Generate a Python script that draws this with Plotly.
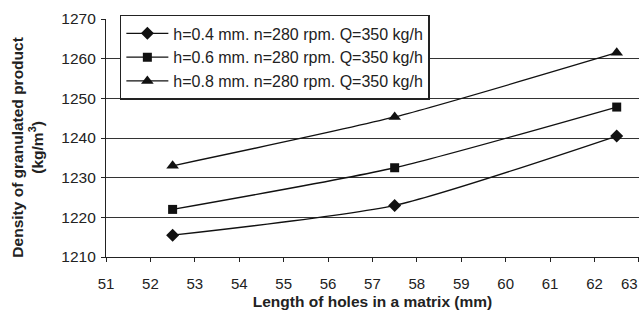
import plotly.graph_objects as go

x_len = [52.5, 57.5, 62.5]
dens_h04 = [1215.5, 1223.0, 1240.5]
dens_h06 = [1222.0, 1232.5, 1247.8]
dens_h08 = [1233.0, 1245.3, 1261.5]
names = ["h=0.4 mm. n=280 rpm. Q=350 kg/h",
         "h=0.6 mm. n=280 rpm. Q=350 kg/h",
         "h=0.8 mm. n=280 rpm. Q=350 kg/h"]
symbols = ["diamond", "square", "triangle-up"]
sizes = [10, 9, 11]
x_ticks = list(range(51, 64))
x_ticktext = [str(v) for v in x_ticks[:-1]] + [""]
last_x_label = str(x_ticks[-1])
y_ticks = list(range(1210, 1271, 10))

FONT = "Liberation Sans, Arial, sans-serif"
fig = go.Figure()
for i, (ys, nm) in enumerate(zip([dens_h04, dens_h06, dens_h08], names)):
    fig.add_trace(go.Scatter(
        x=x_len, y=ys, name=nm, mode="lines+markers",
        line=dict(color="#111111", width=1.3, shape="spline", smoothing=0.6),
        marker=dict(symbol=symbols[i], size=sizes[i], color="#111111"),
        legendgroup=f"g{i}",
    ))

fig.update_layout(
    width=644, height=316,
    margin=dict(l=106, r=5, t=19, b=59, autoexpand=False),
    paper_bgcolor="white", plot_bgcolor="white",
    font=dict(family=FONT, size=15, color="#222222"),
    showlegend=True,
    legend=dict(x=0.026, y=1.017, xanchor="left", yanchor="top",
                bgcolor="white", bordercolor="#222222", borderwidth=1.5,
                font=dict(size=16, family=FONT, color="#222222"),
                tracegroupgap=0, itemwidth=42),
    xaxis=dict(range=[51, 63.002], tickvals=x_ticks, ticktext=x_ticktext,
               showgrid=False, zeroline=False, automargin=False,
               showline=True, linecolor="#222222", linewidth=1.2,
               ticks="outside", ticklen=4, tickcolor="#222222",
               ticklabelstandoff=9, tickfont=dict(size=15),
               title=dict(text="<b>Length of holes in a matrix (mm)</b>",
                          font=dict(size=15.5, family=FONT), standoff=5)),
    yaxis=dict(range=[1210, 1270], tickvals=y_ticks, showgrid=True,
               automargin=False,
               gridcolor="#333333", gridwidth=1, zeroline=False,
               showline=True, linecolor="#222222", linewidth=1.2,
               ticks="outside", ticklen=4, tickcolor="#222222",
               ticklabelstandoff=2, tickfont=dict(size=15.5)),
)

fig.add_annotation(
    text=last_x_label, xref="x", yref="paper", x=x_ticks[-1], y=0,
    xanchor="right", yanchor="top", xshift=1, yshift=-16, showarrow=False,
    font=dict(size=15, family=FONT, color="#222222"),
)

fig.add_annotation(
    text="<b>Density of granulated product</b><br><b>(kg/m<sup>3</sup>)</b>",
    xref="paper", yref="paper", x=-0.148, y=0.46,
    xanchor="center", yanchor="middle", textangle=-90, showarrow=False,
    font=dict(size=15.5, family=FONT, color="#222222"),
)

fig.write_html("out.html", config={"displayModeBar": False},
               post_script="document.body.style.margin='0';document.body.style.overflow='hidden';")
